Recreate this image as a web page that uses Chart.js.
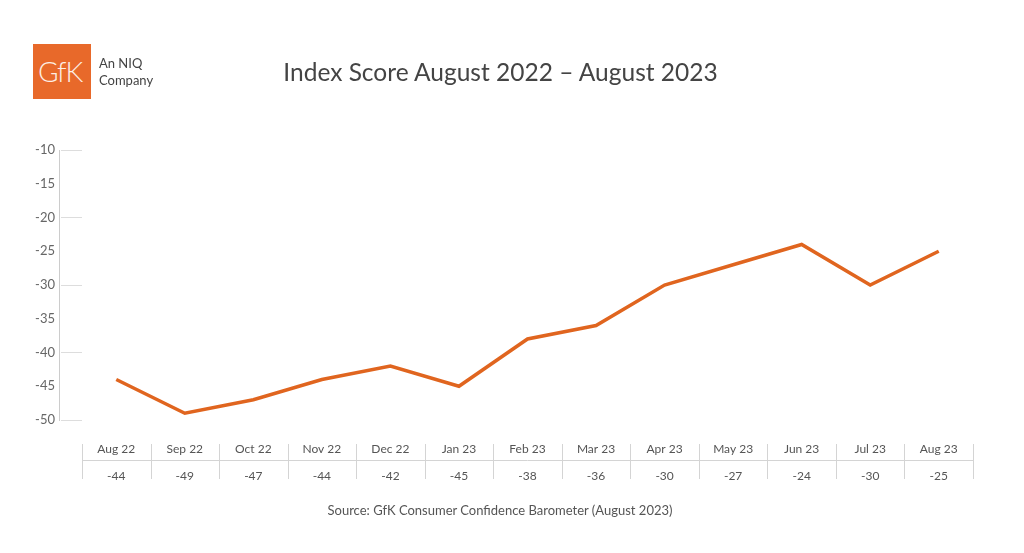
<!DOCTYPE html>
<html>
<head>
<meta charset="utf-8">
<script src="https://cdn.jsdelivr.net/npm/chart.js@4.4.0/dist/chart.umd.min.js"></script>
<style>
    body { margin: 0; background: #fff; font-family: Lato, 'Open Sans', sans-serif; }
    #wrap { position: relative; width: 1024px; height: 553px; }
    #logo { position: absolute; left: 33px; top: 44px; width: 58px; height: 55px; background: #e8692a; overflow: hidden; }
    #logo span { position: absolute; left: 5px; top: 10px; color: #fdeee4; font-size: 28px; font-weight: 300; letter-spacing: -1px; }
    #niq { position: absolute; left: 99px; top: 55px; font-size: 13px; line-height: 17px; color: #444; }
    #title { position: absolute; left: 0; width: 1001px; top: 57px; text-align: center; font-size: 24.5px; color: #444; }
    #source { position: absolute; left: 0; width: 1000px; top: 502px; text-align: center; font-size: 13px; color: #555; }
    canvas { position: absolute; left: 0; top: 0; }
</style>
</head>
<body>
<div id="wrap">
    <canvas id="chart" width="1024" height="553"></canvas>
    <div id="logo"><span>GfK</span></div>
    <div id="niq">An NIQ<br>Company</div>
    <div id="title">Index Score August 2022 – August 2023</div>
    <div id="source">Source: GfK Consumer Confidence Barometer (August 2023)</div>
</div>
<script>
const months = ['Aug 22', 'Sep 22', 'Oct 22', 'Nov 22', 'Dec 22', 'Jan 23', 'Feb 23', 'Mar 23', 'Apr 23', 'May 23', 'Jun 23', 'Jul 23', 'Aug 23'];
const scores = [-44, -49, -47, -44, -42, -45, -38, -36, -30, -27, -24, -30, -25];
const yMin = -50;
const yMax = -10;

// short tick lines, the y axis line and the data table under the chart
const tablePlugin = {
    id: 'tablePlugin',
    afterDraw(chart) {
        const ctx = chart.ctx;
        const x = chart.scales.x;
        const y = chart.scales.y;
        const area = chart.chartArea;
        const colW = (area.right - area.left) / months.length;

        ctx.save();
        ctx.strokeStyle = '#cccccc';
        ctx.lineWidth = 1;
        ctx.beginPath();
        ctx.moveTo(area.left - 22.5, y.getPixelForValue(yMax));
        ctx.lineTo(area.left - 22.5, y.getPixelForValue(yMin) + 1);
        ctx.stroke();

        // table lines
        ctx.strokeStyle = '#d4d4d4';
        ctx.beginPath();
        ctx.moveTo(area.left, 460.5);
        ctx.lineTo(area.right, 460.5);
        for (let i = 0; i <= months.length; i++) {
            const px = Math.round(x.getPixelForValue(i) - colW / 2) + 0.5;
            ctx.moveTo(px, 444);
            ctx.lineTo(px, 479);
        }
        ctx.stroke();

        ctx.fillStyle = '#555555';
        ctx.font = '12px Lato, sans-serif';
        ctx.textAlign = 'center';
        ctx.textBaseline = 'middle';
        months.forEach((m, i) => {
            const px = x.getPixelForValue(i);
            ctx.fillText(m, px, 449);
            ctx.fillText(String(scores[i]), px, 476);
        });
        ctx.restore();
    }
};

new Chart(document.getElementById('chart'), {
    type: 'line',
    data: {
        labels: months,
        datasets: [{
            data: scores,
            borderColor: '#e0651f',
            borderWidth: 3.5,
            pointRadius: 0,
            tension: 0,
            fill: false
        }]
    },
    options: {
        responsive: false,
        animation: false,
        layout: {
            padding: { top: 150, right: 51, bottom: 133, left: 0 }
        },
        plugins: {
            legend: { display: false },
            tooltip: { enabled: false }
        },
        scales: {
            x: {
                display: false,
                offset: true
            },
            y: {
                min: yMin,
                max: yMax,
                afterFit(scale) { scale.width = 82; },
                border: { display: false },
                grid: {
                    drawOnChartArea: false,
                    drawTicks: true,
                    tickLength: 21,
                    color: ctx => (ctx.tick && ctx.tick.value % 10 === 0) ? '#dddddd' : 'rgba(0,0,0,0)'
                },
                ticks: {
                    stepSize: 5,
                    padding: 6,
                    color: '#666666',
                    font: { family: 'Lato', size: 13 }
                }
            }
        }
    },
    plugins: [tablePlugin]
});
</script>
</body>
</html>
